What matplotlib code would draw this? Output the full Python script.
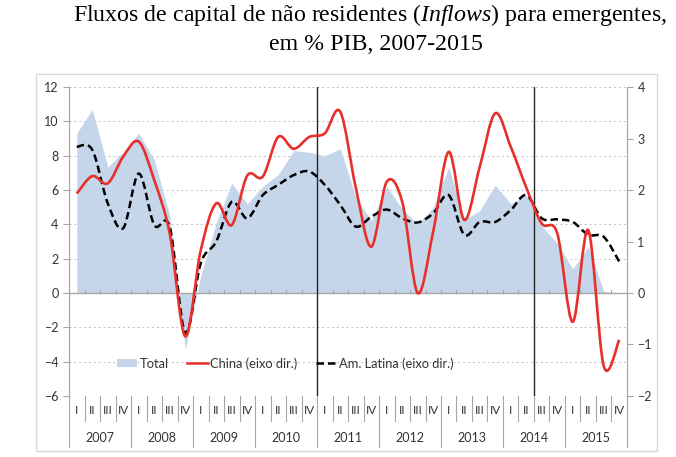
import numpy as np
import matplotlib.pyplot as plt
from matplotlib.path import Path
from matplotlib.patches import PathPatch, Rectangle
from matplotlib.lines import Line2D
from matplotlib.patches import Patch

plt.rcParams['font.family'] = ['Lato', 'DejaVu Sans']
plt.rcParams['mathtext.fontset'] = 'custom'
plt.rcParams['mathtext.rm'] = 'Liberation Serif'
plt.rcParams['mathtext.it'] = 'Liberation Serif:italic'

# Data (quarters 2007 I .. 2015 IV)
years = ['2007', '2008', '2009', '2010', '2011', '2012', '2013', '2014', '2015']
quarters = ['I', 'II', 'III', 'IV']

# Total, % PIB (left axis)
total = [9.3, 10.7, 7.35, 8.2, 9.3, 7.75, 4.5, -3.3,
         1.0, 4.1, 6.4, 5.2, 6.2, 6.9, 8.3, 8.2,
         8.0, 8.4, 5.6, 4.2, 6.2, 4.9, 4.0, 5.0,
         7.35, 4.25, 4.8, 6.3, 5.2, 5.7, 3.9, 2.9,
         1.4, 2.7, 0.1, 0.0]

# China, right axis
china = [1.93, 2.27, 2.13, 2.65, 2.94, 2.19, 1.15, -0.84,
         0.83, 1.74, 1.32, 2.28, 2.26, 3.03, 2.8, 3.03,
         3.1, 3.52, 2.05, 0.9, 2.16, 1.77, 0.0, 1.2,
         2.74, 1.42, 2.45, 3.49, 2.84, 2.05, 1.35, 1.16,
         -0.56, 1.22, -1.42, -0.91]

# Am. Latina, right axis
latam = [2.84, 2.78, 1.74, 1.26, 2.32, 1.32, 1.28, -0.77,
         0.58, 1.0, 1.77, 1.45, 1.9, 2.1, 2.29, 2.36,
         2.1, 1.71, 1.29, 1.48, 1.62, 1.45, 1.37, 1.55,
         1.9, 1.13, 1.38, 1.38, 1.61, 1.9, 1.45, 1.43,
         1.38, 1.13, 1.09, 0.61]

x = np.arange(len(total))


def smooth_path(xs, ys, t=1 / 6):
    # Excel-like smoothed line: cubic bezier through the points
    xs = np.asarray(xs, float)
    ys = np.asarray(ys, float)
    n = len(xs)
    verts = [(xs[0], ys[0])]
    codes = [Path.MOVETO]
    for i in range(n - 1):
        i0 = max(i - 1, 0)
        i3 = min(i + 2, n - 1)
        c1 = (xs[i] + (xs[i + 1] - xs[i0]) * t, ys[i] + (ys[i + 1] - ys[i0]) * t)
        c2 = (xs[i + 1] - (xs[i3] - xs[i]) * t, ys[i + 1] - (ys[i3] - ys[i]) * t)
        verts += [c1, c2, (xs[i + 1], ys[i + 1])]
        codes += [Path.CURVE4] * 3
    return Path(verts, codes)


fig = plt.figure(figsize=(6.76, 4.57), dpi=100)
ax = fig.add_axes([0.1021, 0.1335, 0.8254, 0.6761])
ax2 = ax.twinx()

txt_color = '#333333'
grid_color = '#bfbfbf'
axis_color = '#a6a6a6'

# area
ax.fill_between(x, 0, total, color='#c6d6ea', lw=0, zorder=1)
ax.axhline(0, color=axis_color, lw=1, zorder=2)
for b in np.arange(-0.5, 36, 1):
    ax.plot([b, b], [0, 0.18], color=axis_color, lw=0.8, zorder=2)

for v in range(-6, 13, 2):
    if v != 0:
        ax.axhline(v, color=grid_color, lw=0.7, ls=(0, (2, 3)), zorder=0)

# vertical markers
for b in [15.5, 29.5]:
    ax.plot([b, b], [-6, 12], color='#262626', lw=1.0, zorder=3)

ax.set_xlim(-0.5, 35.5)
ax.set_ylim(-6, 12)
ax2.set_ylim(-2, 4)
ax.set_yticks(range(-6, 13, 2))
ax2.set_yticks(range(-2, 5, 1))
ax.set_xticks([])

ax2.add_patch(PathPatch(smooth_path(x, latam), fill=False, color='black',
                        lw=1.8, ls=(0, (3, 1.6)), zorder=4))
ax2.add_patch(PathPatch(smooth_path(x, china), fill=False, color='#e8302a',
                        lw=1.9, zorder=5))

for a in (ax, ax2):
    a.spines['top'].set_visible(False)
    a.spines['bottom'].set_visible(False)
    a.spines['left'].set_color(axis_color)
    a.spines['right'].set_color(axis_color)
    a.tick_params(axis='y', colors=axis_color, labelcolor=txt_color,
                  labelsize=9, length=4, width=0.8)
ax2.set_zorder(ax.get_zorder() + 1)
ax2.patch.set_visible(False)
ax.patch.set_visible(False)

# category axis (two levels)
trans = ax.get_xaxis_transform()
for i in range(36):
    ax.text(i, -0.048, quarters[i % 4], transform=trans, ha='center',
            va='center', fontsize=8.5, color=txt_color)
for k, yr in enumerate(years):
    ax.text(4 * k + 1.5, -0.136, yr, transform=trans, ha='center',
            va='center', fontsize=9, color=txt_color)
for b in np.arange(-0.5, 36, 1):
    low = -0.165 if (b + 0.5) % 4 == 0 else -0.081
    ax.plot([b, b], [0, low], transform=trans, color=axis_color,
            lw=0.8, clip_on=False)

# legend
handles = [Patch(facecolor='#c6d6ea', edgecolor='none'),
           Line2D([], [], color='#e8302a', lw=1.8),
           Line2D([], [], color='black', lw=1.8, ls=(0, (3, 1.6)))]
labels = ['Total', 'China (eixo dir.)', 'Am. Latina (eixo dir.)']
leg = ax2.legend(handles, labels, loc='center left', bbox_to_anchor=(0.074, 0.105),
                 ncol=3, frameon=False, fontsize=9.3, handlelength=1.6,
                 handletextpad=0.2, columnspacing=1.4, handleheight=0.6,
                 borderpad=0)
for t in leg.get_texts():
    t.set_color(txt_color)

# outer chart border
fig.patches.append(Rectangle((36 / 676, 1 - 451 / 457), 621 / 676, 377 / 457,
                             transform=fig.transFigure, fill=False,
                             edgecolor='#d9d9d9', lw=1))

# title
fig.text(0.548, 0.968, r'Fluxos de capital de não residentes ($\it{Inflows}$) para emergentes,',
         ha='center', va='center', fontsize=17.2, family='Liberation Serif')
fig.text(0.556, 0.902, 'em % PIB, 2007-2015', ha='center', va='center',
         fontsize=17.2, family='Liberation Serif')

fig.savefig('out.png', dpi=100)
